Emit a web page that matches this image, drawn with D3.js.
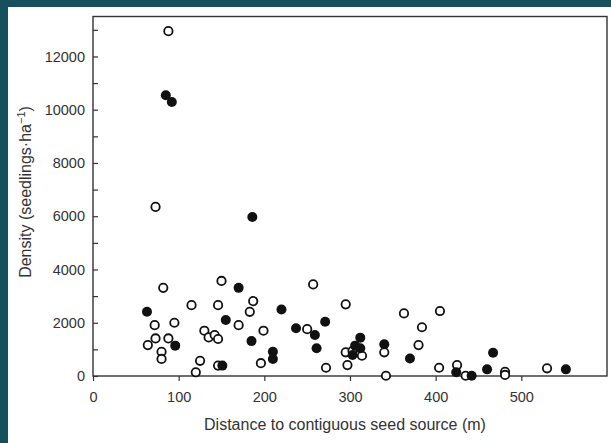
<!DOCTYPE html>
<html>
<head>
<meta charset="utf-8">
<script src="https://cdn.jsdelivr.net/npm/d3@7"></script>
<style>
    html, body { margin: 0; padding: 0; background: #164f5e; }
    #chart { position: absolute; left: 8px; top: 7px; width: 603px; height: 436px; background: white; }
    svg { position: absolute; left: 0; top: 0; }
</style>
</head>
<body>
<div id="chart"></div>
<script>
const width = 611;
const height = 443;
const axisColor = '#333';

// open circles (distance m, density seedlings/ha)
const openDist = [88, 73, 82, 115, 150, 146, 72, 95, 73, 88, 64, 80, 80, 130, 135, 142, 146, 125, 120, 146,
    187, 183, 170, 199, 196, 257, 250, 272, 295, 295, 303, 314, 297, 340, 342, 363, 405, 384, 380, 404,
    425, 435, 481, 481, 530];
const openDensity = [12950, 6350, 3310, 2660, 3570, 2660, 1910, 2000, 1410, 1410, 1160, 910, 640, 1700, 1450, 1540, 1390, 570, 140, 390,
    2810, 2410, 1910, 1700, 480, 3440, 1760, 310, 2690, 890, 940, 760, 410, 890, 10, 2350, 2440, 1830, 1160, 310,
    410, 10, 160, 40, 290];

// filled circles
const filledDist = [85, 92, 186, 63, 96, 155, 151, 170, 185, 220, 210, 210, 237, 259, 271, 261,
    312, 306, 312, 303, 340, 370, 424, 442, 460, 467, 552];
const filledDensity = [10540, 10290, 5970, 2410, 1140, 2100, 390, 3310, 1310, 2500, 910, 640, 1790, 1540, 2040, 1040,
    1440, 1140, 1040, 790, 1190, 660, 140, 10, 250, 870, 250];

const xTicks = [0, 100, 200, 300, 400, 500];
const yTicks = d3.range(0, 13001, 1000);

const x = d3.scaleLinear().domain([0, 600]).range([93, 607]);
const y = d3.scaleLinear().domain([0, 13500]).range([376, 16.5]);

const svg = d3.select('body')
    .append('svg')
    .attr('width', width)
    .attr('height', height)
    .style('position', 'absolute')
    .style('left', 0)
    .style('top', 0)
    .style('font-family', '"Liberation Sans", Arial, sans-serif');

// frame
svg.append('rect')
    .attr('x', x(0))
    .attr('y', y(13500))
    .attr('width', x(600) - x(0))
    .attr('height', y(0) - y(13500))
    .attr('fill', 'none')
    .attr('stroke', axisColor)
    .attr('stroke-width', 1.4);

const xAxis = svg.append('g')
    .attr('transform', `translate(0,${y(0)})`)
    .call(d3.axisBottom(x).tickValues(xTicks).tickSize(5).tickPadding(11));

const yAxis = svg.append('g')
    .attr('transform', `translate(${x(0)},0)`)
    .call(d3.axisLeft(y)
        .tickValues(yTicks)
        .tickSize(-5)
        .tickPadding(8)
        .tickFormat((d) => (d % 2000 === 0 ? d : '')));

[xAxis, yAxis].forEach((g) => {
    g.select('.domain').remove();
    g.selectAll('.tick line').attr('stroke', axisColor).attr('stroke-width', 1.2);
    g.selectAll('.tick text')
        .attr('fill', '#333')
        .style('font-size', '14.5px')
        .style('font-family', '"Liberation Sans", Arial, sans-serif');
});

// axis titles
svg.append('text')
    .attr('x', 345)
    .attr('y', 430)
    .attr('text-anchor', 'middle')
    .attr('fill', '#333')
    .style('font-size', '16px')
    .text('Distance to contiguous seed source (m)');

const yTitle = svg.append('text')
    .attr('transform', 'translate(31,192) rotate(-90)')
    .attr('text-anchor', 'middle')
    .attr('fill', '#333')
    .style('font-size', '16px');
yTitle.append('tspan').text('Density (seedlings\u00b7ha');
yTitle.append('tspan').attr('dy', -6).style('font-size', '11px').text('\u22121');
yTitle.append('tspan').attr('dy', 6).text(')');

// points
const openData = openDist.map((d, i) => ({ dist: d, dens: openDensity[i] }));
const filledData = filledDist.map((d, i) => ({ dist: d, dens: filledDensity[i] }));

svg.append('g')
    .selectAll('circle')
    .data(openData)
    .enter()
    .append('circle')
    .attr('cx', (d) => x(d.dist))
    .attr('cy', (d) => y(d.dens))
    .attr('r', 4.2)
    .attr('fill', 'white')
    .attr('stroke', '#111')
    .attr('stroke-width', 1.8);

svg.append('g')
    .selectAll('circle')
    .data(filledData)
    .enter()
    .append('circle')
    .attr('cx', (d) => x(d.dist))
    .attr('cy', (d) => y(d.dens))
    .attr('r', 5)
    .attr('fill', '#111');
</script>
</body>
</html>
